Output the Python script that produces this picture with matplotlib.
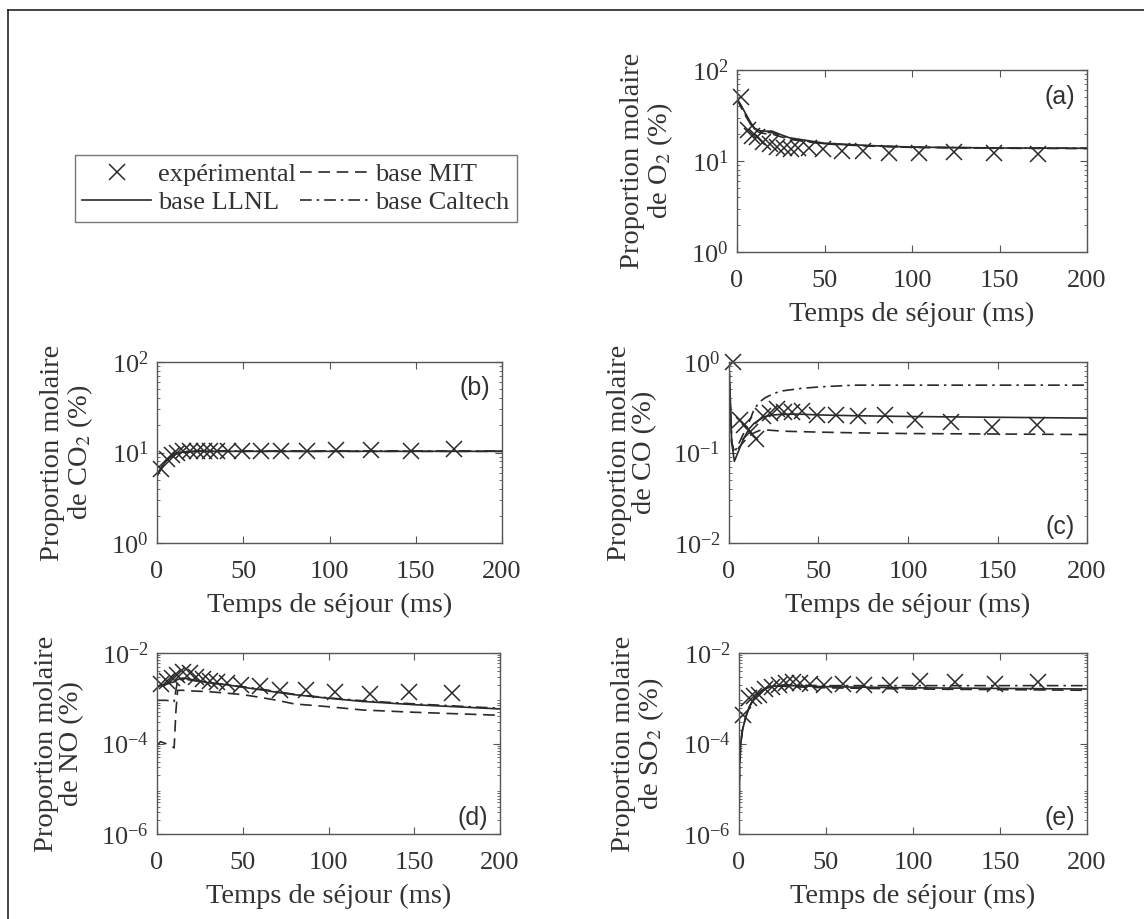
import numpy as np
import matplotlib
matplotlib.use("Agg")
import matplotlib.pyplot as plt
from matplotlib.lines import Line2D
from matplotlib.ticker import LogLocator, NullFormatter

plt.rcParams['font.family'] = ['Liberation Serif', 'DejaVu Serif']
plt.rcParams['mathtext.fontset'] = 'stix'
plt.rcParams['font.size'] = 18

# experimental residence times (ms)
t_exp = [2.5, 6, 8.5, 11.5, 15, 19, 23, 27, 31, 35, 41, 49, 60, 72, 87, 104, 124, 147, 172]

o2_exp = [50, 22, 19, 18.3, 16, 15.4, 14.2, 14, 13.6, 14, 14, 13.6, 13, 13, 12.3, 12.3, 12.5, 12.3, 12]
co2_exp = [6.5, 8.5, 9.5, 10, 10.3, 10.4, 10.4, 10.5, 10.5, 10.5, 10.5, 10.4, 10.4, 10.4, 10.4, 10.6, 10.6, 10.4, 10.8]
co_exp = [1.0, 0.23, 0.2, 0.17, 0.14, 0.25, 0.27, 0.30, 0.28, 0.28, 0.29, 0.26, 0.26, 0.25, 0.26, 0.23, 0.22, 0.19, 0.20]
no_exp = [2.1e-3, 2.4e-3, 2.8e-3, 3.2e-3, 3.9e-3, 3.6e-3, 2.9e-3, 2.6e-3, 2.4e-3, 2.3e-3,
          2.2e-3, 2.0e-3, 1.84e-3, 1.55e-3, 1.5e-3, 1.36e-3, 1.25e-3, 1.37e-3, 1.3e-3]
so2_exp = [4.2e-4, 1.0e-3, 1.1e-3, 1.2e-3, 1.6e-3, 1.8e-3, 2.0e-3, 2.2e-3, 2.3e-3, 2.2e-3,
           2.1e-3, 2.0e-3, 2.1e-3, 2.0e-3, 2.0e-3, 2.4e-3, 2.3e-3, 2.1e-3, 2.3e-3]

# model curves
t_o2 = [0, 2, 5, 8, 10, 13, 16, 20, 25, 30, 40, 50, 75, 100, 150, 200]
o2_llnl = [48, 42, 33, 26, 23, 21.5, 21.3, 21.3, 19.5, 18, 16.8, 15.7, 14.8, 14.2, 13.9, 13.8]
o2_mit = [48, 40, 31, 25, 22, 20.5, 20, 19.8, 18.5, 17.3, 16.3, 15.4, 14.6, 14.1, 13.8, 13.7]
o2_caltech = [48, 41, 32, 25.5, 22.5, 21, 20.7, 20.5, 19, 17.6, 16.5, 15.5, 14.7, 14.2, 13.9, 13.8]

t_co2 = [0, 2, 4, 6, 8, 10, 12, 15, 20, 30, 50, 100, 200]
co2_llnl = [5.5, 6.5, 7.5, 8.4, 9.0, 9.5, 9.8, 10.1, 10.3, 10.3, 10.3, 10.3, 10.3]
co2_mit = [5.5, 6.4, 7.4, 8.3, 8.9, 9.4, 9.7, 10.0, 10.2, 10.3, 10.3, 10.3, 10.3]
co2_caltech = [5.5, 6.6, 7.6, 8.5, 9.1, 9.6, 9.9, 10.2, 10.4, 10.4, 10.4, 10.4, 10.4]

t_co = [0, 0.5, 1.5, 3, 5, 8, 11, 14, 17, 20, 25, 30, 40, 50, 70, 100, 150, 200]
co_llnl = [0.9, 0.5, 0.13, 0.08, 0.1, 0.14, 0.18, 0.21, 0.23, 0.25, 0.26, 0.265, 0.265, 0.26, 0.255, 0.25, 0.245, 0.24]
co_mit = [0.9, 0.5, 0.13, 0.1, 0.11, 0.13, 0.15, 0.165, 0.175, 0.178, 0.175, 0.172, 0.17, 0.168, 0.165, 0.162, 0.16, 0.158]
co_caltech = [0.9, 0.5, 0.13, 0.1, 0.12, 0.16, 0.21, 0.3, 0.36, 0.4, 0.45, 0.48, 0.51, 0.53, 0.555, 0.555, 0.555, 0.555]

t_no = [0, 2, 5, 8, 10, 11, 12, 15, 20, 30, 40, 50, 60, 70, 80, 100, 120, 150, 200]
no_llnl = [1.8e-3, 1.9e-3, 2.0e-3, 2.2e-3, 2.3e-3, 2.45e-3, 2.6e-3, 2.8e-3, 2.6e-3, 2.2e-3, 2.0e-3,
           1.75e-3, 1.55e-3, 1.35e-3, 1.2e-3, 1.0e-3, 8.5e-4, 7.2e-4, 5.8e-4]
no_mit = [9e-5, 1.1e-4, 1.0e-4, 9e-5, 8e-5, 5e-4, 1.5e-3, 1.5e-3, 1.45e-3, 1.4e-3, 1.3e-3,
          1.2e-3, 1.05e-3, 9e-4, 7.5e-4, 6.5e-4, 5.5e-4, 4.9e-4, 4.2e-4]
no_caltech = [9e-4, 9e-4, 9e-4, 8.8e-4, 8.5e-4, 1.5e-3, 2.4e-3, 2.7e-3, 2.5e-3, 2.2e-3, 2.0e-3,
              1.8e-3, 1.6e-3, 1.4e-3, 1.22e-3, 1.02e-3, 8.8e-4, 7.5e-4, 6.0e-4]

t_so2 = [0, 0.3, 1, 2, 4, 6, 8, 10, 13, 16, 20, 25, 30, 50, 100, 150, 200]
so2_llnl = [1e-6, 3e-5, 1e-4, 2e-4, 4e-4, 6.5e-4, 9e-4, 1.15e-3, 1.45e-3, 1.7e-3, 1.85e-3,
            1.9e-3, 1.9e-3, 1.8e-3, 1.7e-3, 1.65e-3, 1.6e-3]
so2_mit = [1e-6, 3e-5, 1e-4, 2e-4, 4e-4, 6.5e-4, 9e-4, 1.15e-3, 1.45e-3, 1.7e-3, 1.85e-3,
           1.85e-3, 1.8e-3, 1.7e-3, 1.6e-3, 1.55e-3, 1.5e-3]
so2_caltech = [1e-6, 3e-5, 1e-4, 2e-4, 4e-4, 6.5e-4, 9e-4, 1.15e-3, 1.45e-3, 1.7e-3, 1.9e-3,
               1.95e-3, 1.95e-3, 1.9e-3, 1.9e-3, 1.9e-3, 1.9e-3]

W, H = 1144, 919
fig = plt.figure(figsize=(W / 100, H / 100), dpi=100)


def px_axes(x0, y0, x1, y1):
    return fig.add_axes([x0 / W, 1 - y1 / H, (x1 - x0) / W, (y1 - y0) / H])


lc = '#2a2a2a'
sc = '#555555'
tc = '#333333'

panels = [
    # box, t_model, llnl, mit, caltech, exp, ylim, ylabel, tag, tag position
    ((737, 70, 1087, 252), t_o2, o2_llnl, o2_mit, o2_caltech, o2_exp, (1, 100),
     'Proportion molaire\nde O$_2$ (%)', '(a)', 'top'),
    ((157, 362, 502, 543), t_co2, co2_llnl, co2_mit, co2_caltech, co2_exp, (1, 100),
     'Proportion molaire\nde CO$_2$ (%)', '(b)', 'top'),
    ((729, 362, 1087, 543), t_co, co_llnl, co_mit, co_caltech, co_exp, (1e-2, 1),
     'Proportion molaire\nde CO (%)', '(c)', 'bottom'),
    ((157, 653, 500, 834), t_no, no_llnl, no_mit, no_caltech, no_exp, (1e-6, 1e-2),
     'Proportion molaire\nde NO (%)', '(d)', 'bottom'),
    ((739, 653, 1087, 834), t_so2, so2_llnl, so2_mit, so2_caltech, so2_exp, (1e-6, 1e-2),
     'Proportion molaire\nde SO$_2$ (%)', '(e)', 'bottom'),
]

handles = None
for box, tm, y_llnl, y_mit, y_cal, y_exp, ylim, ylab, tag, tagpos in panels:
    ax = px_axes(*box)
    h_exp, = ax.plot(t_exp, y_exp, 'x', color=lc, markersize=11, mew=1.1, clip_on=False)
    h_llnl, = ax.plot(tm, y_llnl, '-', color=lc, lw=1.2)
    h_mit, = ax.plot(tm, y_mit, color=lc, lw=1.2, dashes=(7, 4))
    h_cal, = ax.plot(tm, y_cal, color=lc, lw=1.2, dashes=(7, 3, 1.5, 3))
    handles = [h_exp, h_llnl, h_mit, h_cal]
    ax.set_yscale('log')
    ax.set_ylim(*ylim)
    ax.set_xlim(0, 200)
    ax.set_xticks([0, 50, 100, 150, 200])
    if ylim[1] / ylim[0] > 1e3:
        ax.set_yticks([ylim[0], ylim[0] * 100, ylim[1]])
    ax.yaxis.set_minor_locator(LogLocator(base=10, subs=np.arange(2, 10), numticks=20))
    ax.yaxis.set_minor_formatter(NullFormatter())
    ax.tick_params(which='both', direction='in', top=True, right=True, colors=sc,
                   labelcolor=tc, labelsize=19)
    ax.tick_params(which='major', length=5, width=0.8)
    ax.tick_params(which='minor', length=2.5, width=0.6)
    ax.tick_params(axis='x', pad=13)
    ax.tick_params(axis='y', pad=6)
    for s in ax.spines.values():
        s.set_color(sc)
        s.set_linewidth(1.0)
    ax.set_xlabel('Temps de séjour (ms)', fontsize=20.5, color=tc, labelpad=7)
    ax.set_ylabel(ylab, fontsize=20.5, color=tc, linespacing=1.0, labelpad=12)
    if tagpos == 'top':
        ax.text(0.965, 0.92, tag, transform=ax.transAxes, ha='right', va='top',
                family='Liberation Sans', fontsize=18, color=tc)
    else:
        ax.text(0.965, 0.02, tag, transform=ax.transAxes, ha='right', va='bottom',
                family='Liberation Sans', fontsize=18, color=tc)

leg = fig.legend(handles, ['expérimental', 'base LLNL', 'base MIT', 'base Caltech'],
                 ncol=2, loc='upper right', bbox_to_anchor=(517 / W, 1 - 155 / H),
                 fontsize=19, frameon=True, fancybox=False, handlelength=2.6,
                 handletextpad=0.25, columnspacing=0.15, borderpad=0.3,
                 labelspacing=0.15, borderaxespad=0)
leg.get_frame().set_edgecolor(sc)
leg.get_frame().set_linewidth(1.0)
for t in leg.get_texts():
    t.set_color(tc)

# figure border (top and left only)
fig.add_artist(Line2D([8 / W, 1], [1 - 10 / H, 1 - 10 / H], color='#222222', lw=1.2))
fig.add_artist(Line2D([8 / W, 8 / W], [0, 1 - 10 / H], color='#222222', lw=1.2))

fig.savefig('out.png', dpi=100)
